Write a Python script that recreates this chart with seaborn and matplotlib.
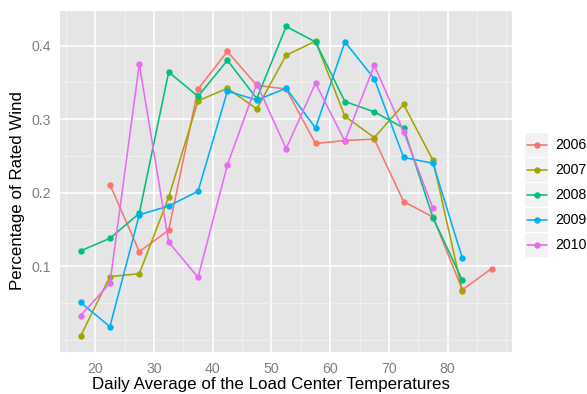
import numpy as np
import pandas as pd
import matplotlib
matplotlib.use("Agg")
import matplotlib.pyplot as plt
import seaborn as sns
from matplotlib.patches import Rectangle
from matplotlib.lines import Line2D

years = ["2006", "2007", "2008", "2009", "2010"]
colors = ["#F8766D", "#A3A500", "#00BF7D", "#00B0F6", "#E76BF3"]

temps_2006 = [22.5, 27.5, 32.5, 37.5, 42.5, 47.5, 52.5, 57.5, 62.5, 67.5, 72.5, 77.5, 82.5, 87.5]
vals_2006 = [0.211, 0.120, 0.149, 0.341, 0.392, 0.346, 0.341, 0.267, 0.271, 0.273, 0.188, 0.167, 0.068, 0.097]

temps_2007 = [17.5, 22.5, 27.5, 32.5, 37.5, 42.5, 47.5, 52.5, 57.5, 62.5, 67.5, 72.5, 77.5, 82.5]
vals_2007 = [0.005, 0.086, 0.090, 0.194, 0.325, 0.342, 0.314, 0.387, 0.406, 0.304, 0.275, 0.320, 0.244, 0.066]

temps_2008 = [17.5, 22.5, 27.5, 32.5, 37.5, 42.5, 47.5, 52.5, 57.5, 62.5, 67.5, 72.5, 77.5, 82.5]
vals_2008 = [0.121, 0.138, 0.172, 0.364, 0.331, 0.380, 0.328, 0.426, 0.405, 0.324, 0.310, 0.288, 0.166, 0.081]

temps_2009 = [17.5, 22.5, 27.5, 32.5, 37.5, 42.5, 47.5, 52.5, 57.5, 62.5, 67.5, 72.5, 77.5, 82.5]
vals_2009 = [0.051, 0.018, 0.170, 0.182, 0.202, 0.338, 0.326, 0.342, 0.288, 0.405, 0.355, 0.248, 0.240, 0.111]

temps_2010 = [17.5, 22.5, 27.5, 32.5, 37.5, 42.5, 47.5, 52.5, 57.5, 62.5, 67.5, 72.5, 77.5]
vals_2010 = [0.033, 0.077, 0.375, 0.133, 0.085, 0.238, 0.348, 0.260, 0.349, 0.270, 0.373, 0.283, 0.179]

x_ticks = [20, 30, 40, 50, 60, 70, 80]
y_ticks = [0.1, 0.2, 0.3, 0.4]
y_ticklabels = ["0.1", "0.2", "0.3", "0.4"]

series = {
    "2006": (temps_2006, vals_2006),
    "2007": (temps_2007, vals_2007),
    "2008": (temps_2008, vals_2008),
    "2009": (temps_2009, vals_2009),
    "2010": (temps_2010, vals_2010),
}
df = pd.concat(
    [pd.DataFrame({"temp": t, "pct": v, "year": y}) for y, (t, v) in series.items()],
    ignore_index=True,
)

sns.set_style("white")
plt.rcParams["font.family"] = ["Liberation Sans", "DejaVu Sans"]

W, H = 587, 394
fig = plt.figure(figsize=(W / 100, H / 100), dpi=100)
pl, pr, pt, pb = 60, 512.3, 11, 351.7
ax = fig.add_axes([pl / W, 1 - pb / H, (pr - pl) / W, (pb - pt) / H])
ax.set_facecolor("#E5E5E5")

sns.lineplot(
    data=df, x="temp", y="pct", hue="year", hue_order=years,
    palette=dict(zip(years, colors)), marker="o", markersize=4.6,
    markeredgewidth=0, linewidth=1.15, legend=False, ax=ax, sort=False,
    estimator=None,
)

allx = df["temp"]
ally = df["pct"]
xr = allx.max() - allx.min()
yr = ally.max() - ally.min()
ax.set_xlim(allx.min() - 0.05 * xr, allx.max() + 0.05 * xr)
ax.set_ylim(ally.min() - 0.05 * yr, ally.max() + 0.05 * yr)

ax.set_xticks(x_ticks)
ax.set_yticks(y_ticks)
ax.set_yticklabels(y_ticklabels)
ax.set_xticks([15, 25, 35, 45, 55, 65, 75, 85, 90 + 0], minor=True)
ax.set_yticks([0.0, 0.05, 0.15, 0.25, 0.35], minor=True)
ax.grid(which="major", color="white", linewidth=1.2)
ax.grid(which="minor", color="#F2F2F2", linewidth=0.6)
ax.set_axisbelow(True)
for s in ax.spines.values():
    s.set_visible(False)
ax.tick_params(which="major", length=4.2, width=0.9, color="#7F7F7F",
               labelcolor="#7F7F7F", labelsize=10.2)
ax.tick_params(axis="y", pad=2.4)
ax.tick_params(axis="x", pad=3.2)
ax.tick_params(which="minor", length=0)

ax.set_xlabel("Daily Average of the Load Center Temperatures", fontsize=12.2, color="black")
ax.set_ylabel("Percentage of Rated Wind", fontsize=12.2, color="black")
ax.xaxis.set_label_coords((271 - pl) / (pr - pl), (pb - 384) / (pb - pt))
ax.yaxis.set_label_coords((18 - pl) / (pr - pl), (pb - 191) / (pb - pt))
ax.xaxis.label.set_va("center")
ax.yaxis.label.set_va("center")

# legend (drawn in figure pixel coordinates)
key_x0, key_w, key_h = 525, 23, 24
for i, (yname, col) in enumerate(zip(years, colors)):
    cy = 145 + 25 * i
    fig.patches.append(Rectangle(((key_x0) / W, 1 - (cy + key_h / 2) / H), key_w / W, key_h / H,
                                 transform=fig.transFigure, facecolor="#F2F2F2", edgecolor="none"))
    fig.lines.append(Line2D([(key_x0 + 1.5) / W, (key_x0 + key_w - 1.5) / W], [1 - cy / H] * 2,
                            transform=fig.transFigure, color=col, linewidth=1.15,
                            marker="o", markevery=[], markersize=4.6))
    fig.lines.append(Line2D([(key_x0 + key_w / 2) / W], [1 - cy / H],
                            transform=fig.transFigure, color=col, linestyle="none",
                            marker="o", markersize=4.6, markeredgewidth=0))
    fig.text(555 / W, 1 - cy / H, yname, fontsize=10.2, color="black", va="center", ha="left")

fig.savefig("out.png", dpi=100, facecolor="white")
